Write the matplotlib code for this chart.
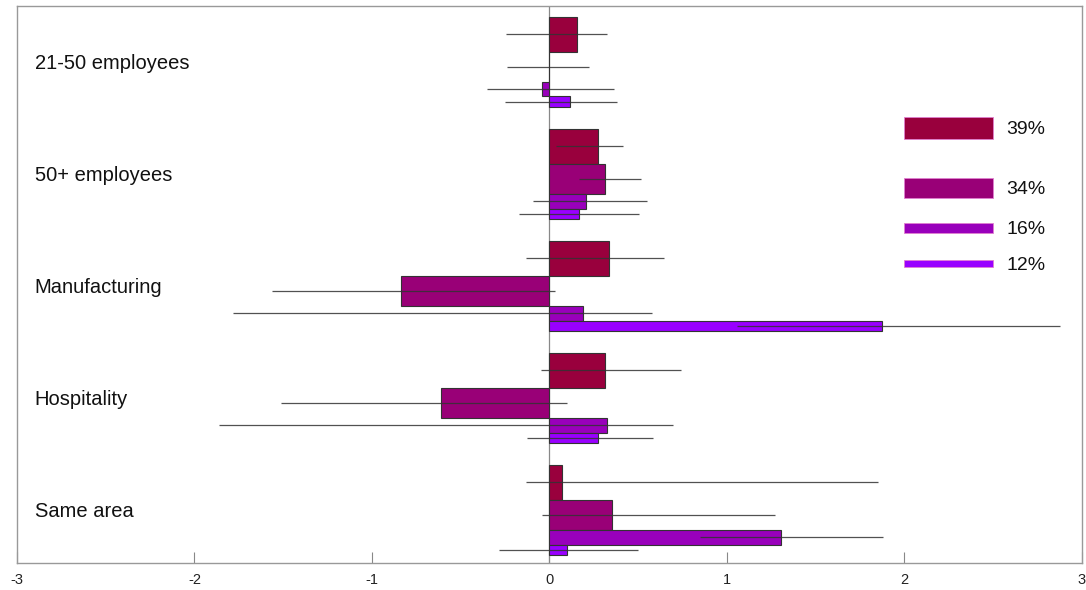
import matplotlib
matplotlib.use('Agg')
import matplotlib.pyplot as plt
import numpy as np

plt.rcParams['font.family'] = ['Liberation Sans', 'DejaVu Sans']
plt.rcParams['axes.unicode_minus'] = False

# 数据
groups = ['21-50 employees', '50+ employees', 'Manufacturing', 'Hospitality', 'Same area']
shares = [39, 34, 16, 12]
share_labels = ['39%', '34%', '16%', '12%']
colors = ['#99003d', '#990077', '#9900bb', '#9900ff']

# 每组四个系数（按 shares 的顺序）
values = np.array([
    [0.155, 0.0, -0.04, 0.119],
    [0.273, 0.315, 0.207, 0.166],
    [0.335, -0.834, 0.189, 1.878],
    [0.315, -0.61, 0.323, 0.273],
    [0.07, 0.353, 1.309, 0.102],
])
err_lo = np.array([
    [-0.245, -0.24, -0.35, -0.247],
    [0.04, 0.166, -0.089, -0.168],
    [-0.133, -1.561, -1.78, 1.058],
    [-0.049, -1.51, -1.86, -0.123],
    [-0.132, -0.039, 0.851, -0.281],
])
err_hi = np.array([
    [0.327, 0.225, 0.365, 0.38],
    [0.414, 0.518, 0.553, 0.506],
    [0.648, 0.034, 0.581, 2.88],
    [0.744, 0.102, 0.695, 0.583],
    [1.851, 1.272, 1.88, 0.503],
])

fig = plt.figure(figsize=(10.86, 5.90), dpi=100)
ax = fig.add_axes([17 / 1086, 1 - 563 / 590, (1081.5 - 17) / 1086, (563 - 6) / 590])

heights = np.array(shares) / 100 * 0.8
offsets = np.concatenate([[0], np.cumsum(heights)[:-1]]) + heights / 2 - heights.sum() / 2

ax.axvline(0, color='#888888', lw=0.9, zorder=1)

for j in range(len(shares)):
    ypos = np.arange(len(groups)) + offsets[j]
    ax.barh(ypos, values[:, j], height=heights[j], color=colors[j],
            edgecolor='#333333', linewidth=0.8, zorder=2)
    ax.hlines(ypos, err_lo[:, j], err_hi[:, j], color='#333333',
              lw=0.9, alpha=0.85, zorder=3)

for i, g in enumerate(groups):
    ax.text(-2.9, i + 0.015, g, fontsize=14.5, va='center', ha='left', color='#111111')

# 手动图例
leg_y = [0.588, 1.125, 1.482, 1.80]
leg_h = np.array(shares) / 100 * 0.52
for j in range(len(shares)):
    ax.barh(leg_y[j], 0.5, left=2.0, height=leg_h[j], color=colors[j],
            edgecolor='#e080d0', linewidth=0.6, zorder=2)
    ax.text(2.575, leg_y[j] + 0.015, share_labels[j], fontsize=14, va='center',
            ha='left', color='#111111')

ax.set_xlim(-3, 3)
ax.set_ylim(4.473, -0.5)
ax.set_xticks([-3, -2, -1, 0, 1, 2, 3])
ax.set_yticks([])
ax.tick_params(axis='x', direction='in', length=8, color='#888888',
               labelsize=10.5, pad=7, labelcolor='#222222')
for s in ax.spines.values():
    s.set_color('#999999')
    s.set_linewidth(1.0)

plt.savefig('out.png', dpi=100)
